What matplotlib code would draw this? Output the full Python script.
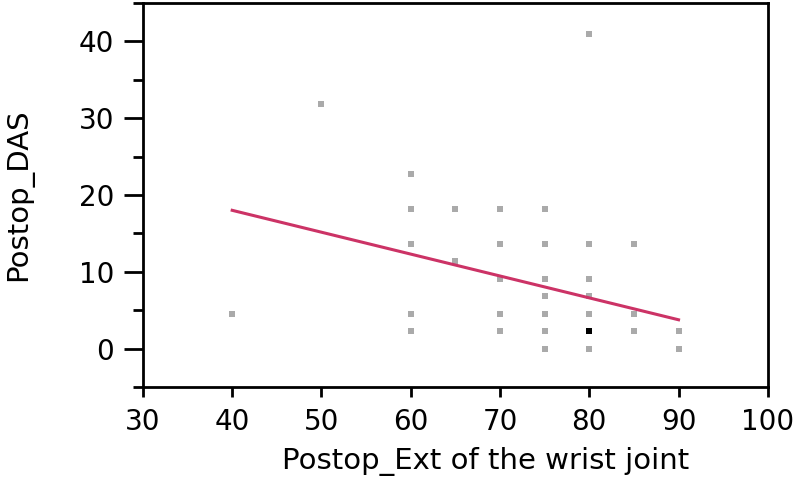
import numpy as np
import matplotlib.pyplot as plt

plt.rcParams['font.family'] = ['DejaVu Sans']

# scatter data (Postop_Ext vs Postop_DAS)
ext = [40, 50,
       60, 60, 60, 60, 60,
       65, 65,
       70, 70, 70, 70, 70,
       75, 75, 75, 75, 75, 75, 75,
       80, 80, 80, 80, 80, 80,
       85, 85, 85,
       90, 90]
das = [4.55, 31.82,
       22.73, 18.18, 13.64, 4.55, 2.27,
       18.18, 11.36,
       18.18, 13.64, 9.09, 4.55, 2.27,
       18.18, 13.64, 9.09, 6.82, 4.55, 2.27, 0.0,
       40.91, 13.64, 9.09, 6.82, 4.55, 0.0,
       13.64, 4.55, 2.27,
       2.27, 0.0]
# darker point (overlapping cases)
dark_ext = [80]
dark_das = [2.27]

# fit line end points
fit_x = [40, 90]
fit_y = [18.0, 3.75]

fig = plt.figure(figsize=(7.94, 4.88), dpi=100)
ax = fig.add_axes([0.180, 0.207, 0.787, 0.787])

ax.scatter(ext, das, marker='s', s=24, color='#aaaaaa', linewidths=0, zorder=2)
ax.scatter(dark_ext, dark_das, marker='s', s=24, color='black', linewidths=0, zorder=3)
ax.plot(fit_x, fit_y, color='#cc3366', lw=2.2, zorder=4)

ax.set_xlim(30, 100)
ax.set_ylim(-5, 45)
ax.set_xticks(np.arange(30, 101, 10))
ax.set_yticks(np.arange(0, 41, 10))
ax.set_yticks(np.arange(-5, 46, 10), minor=True)

for s in ax.spines.values():
    s.set_linewidth(2)

ax.tick_params(axis='x', which='major', direction='out', length=7.2, width=2,
               labelsize=20, pad=8)
ax.tick_params(axis='y', which='major', direction='out', length=13.7, width=2,
               labelsize=20, pad=7)
ax.tick_params(axis='y', which='minor', direction='out', length=7, width=2)

ax.set_xlabel('Postop_Ext of the wrist joint', fontsize=21, va='top')
ax.xaxis.set_label_coords(0.549, -0.157)
ax.set_ylabel('Postop_DAS', fontsize=21)
ax.yaxis.set_label_coords(-0.176, 0.5)

fig.savefig('out.png', dpi=100)
